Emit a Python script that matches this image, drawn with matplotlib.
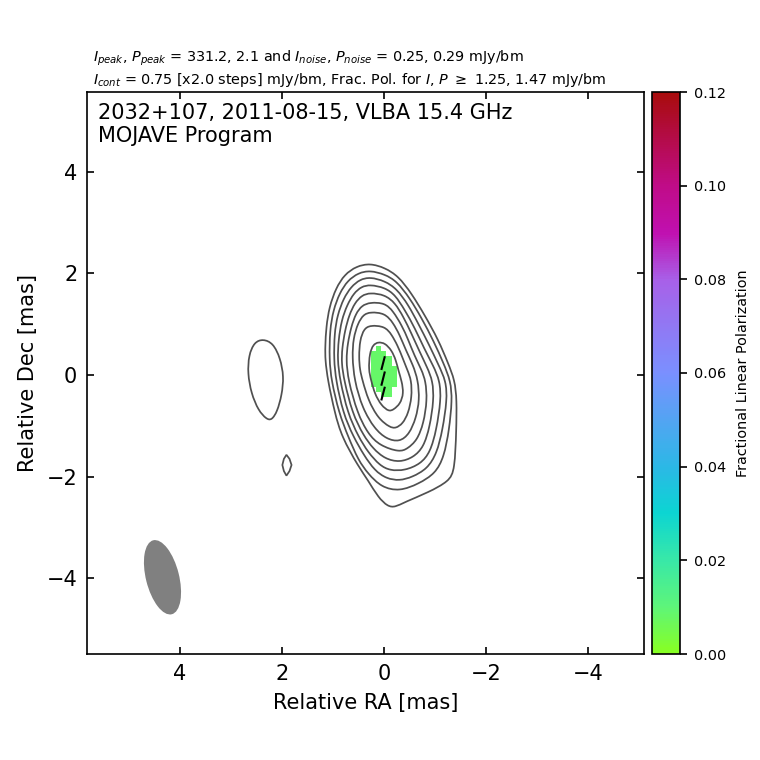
"""
plot.py — MOJAVE 15 GHz fractional polarization map of 2032+107.
"""

import numpy as np
import matplotlib
matplotlib.use("Agg")
import matplotlib.pyplot as plt
from matplotlib.colors import LinearSegmentedColormap
from matplotlib.patches import Ellipse, PathPatch, Polygon
from matplotlib.path import Path

# ---------------------------------------------------------------------------
# Data (RA, Dec in mas)
# ---------------------------------------------------------------------------

contour_1 = [(0.11, 0.65), (0.21, 0.60), (0.28, 0.43), (0.30, 0.10), (0.25, -0.10), (0.18, -0.37), (0.05, -0.60),
             (-0.10, -0.72), (-0.19, -0.68), (-0.32, -0.57), (-0.39, -0.36), (-0.35, -0.12), (-0.29, 0.07),
             (-0.235, 0.30), (-0.15, 0.49), (-0.02, 0.63)]
contour_2 = [(0.27, 0.98), (0.39, 0.91), (0.47, 0.69), (0.49, 0.36), (0.47, 0.10), (0.42, -0.10), (0.31, -0.49),
             (0.11, -0.86), (-0.12, -1.03), (-0.23, -1.05), (-0.37, -0.96), (-0.48, -0.75), (-0.55, -0.43), (-0.54, -0.10),
             (-0.46, 0.10), (-0.37, 0.33), (-0.27, 0.58), (-0.15, 0.80), (-0.02, 0.96)]
contour_3 = [(0.27, 1.24), (0.40, 1.19), (0.51, 1.02), (0.60, 0.72), (0.62, 0.36), (0.58, -0.10), (0.42, -0.66), (0.18, -1.06),
             (-0.05, -1.26), (-0.31, -1.32), (-0.50, -1.16), (-0.63, -0.85), (-0.70, -0.49), (-0.67, -0.10),
             (-0.57, 0.20), (-0.43, 0.49), (-0.31, 0.79), (-0.18, 1.03), (-0.02, 1.22)]
contour_4 = [(0.27, 1.43), (0.43, 1.37), (0.55, 1.21), (0.64, 0.95), (0.71, 0.62), (0.74, 0.30), (0.70, -0.10), (0.52, -0.75),
             (0.31, -1.16), (0.08, -1.39), (-0.31, -1.52), (-0.46, -1.45), (-0.65, -1.29), (-0.78, -0.95), (-0.85, -0.49),
             (-0.82, -0.12), (-0.74, 0.10), (-0.60, 0.38), (-0.48, 0.69), (-0.35, 0.98), (-0.18, 1.26), (-0.02, 1.42)]
contour_5 = [(0.27, 1.62), (0.43, 1.57), (0.57, 1.42), (0.68, 1.18), (0.76, 0.89), (0.82, 0.52), (0.83, 0.23), (0.78, -0.10),
             (0.62, -0.75), (0.40, -1.19), (0.21, -1.45), (-0.02, -1.65), (-0.31, -1.72), (-0.58, -1.62), (-0.78, -1.42),
             (-0.90, -1.02), (-0.98, -0.49), (-0.96, -0.12), (-0.85, 0.15), (-0.70, 0.46), (-0.54, 0.82), (-0.38, 1.15),
             (-0.22, 1.42), (-0.02, 1.58)]
contour_6 = [(0.27, 1.78), (0.44, 1.74), (0.59, 1.61), (0.72, 1.38), (0.83, 1.08), (0.89, 0.69), (0.91, 0.30), (0.86, -0.10),
             (0.71, -0.75), (0.50, -1.21), (0.31, -1.52), (0.08, -1.78), (-0.12, -1.88), (-0.41, -1.88), (-0.72, -1.75),
             (-0.91, -1.52), (-1.03, -1.08), (-1.12, -0.49), (-1.10, -0.12), (-0.97, 0.18), (-0.79, 0.52), (-0.61, 0.92),
             (-0.41, 1.28), (-0.22, 1.58), (-0.02, 1.72)]
contour_7 = [(0.27, 1.93), (0.47, 1.88), (0.64, 1.74), (0.79, 1.51), (0.91, 1.18), (0.97, 0.82), (0.98, 0.30), (0.94, -0.10),
             (0.80, -0.75), (0.60, -1.21), (0.39, -1.58), (0.18, -1.88), (-0.05, -2.04), (-0.31, -2.08), (-0.55, -2.01),
             (-0.85, -1.85), (-1.04, -1.54), (-1.15, -1.08), (-1.24, -0.49), (-1.22, -0.12), (-1.07, 0.20), (-0.89, 0.59),
             (-0.67, 1.02), (-0.48, 1.38), (-0.25, 1.70), (-0.02, 1.85)]
contour_8 = [(0.27, 2.06), (0.50, 2.01), (0.71, 1.86), (0.87, 1.61), (0.99, 1.28), (1.06, 0.89), (1.07, 0.30), (1.03, -0.10),
             (0.88, -0.75), (0.70, -1.21), (0.50, -1.68), (0.31, -1.94), (0.05, -2.21), (-0.31, -2.29), (-0.68, -2.14),
             (-1.01, -1.94), (-1.18, -1.61), (-1.28, -1.08), (-1.34, -0.49), (-1.31, -0.12), (-1.17, 0.23), (-0.98, 0.66),
             (-0.74, 1.12), (-0.51, 1.51), (-0.25, 1.85), (-0.02, 1.98)]
contour_9 = [(0.27, 2.20), (0.54, 2.14), (0.77, 1.98), (0.94, 1.71), (1.07, 1.34), (1.13, 0.95), (1.15, 0.56), (1.15, 0.30),
             (1.10, -0.10), (0.96, -0.75), (0.83, -1.21), (0.50, -1.80), (0.31, -2.07), (0.11, -2.41), (-0.08, -2.59),
             (-0.22, -2.60), (-0.41, -2.50), (-0.87, -2.31), (-1.28, -2.09), (-1.39, -1.87), (-1.42, -1.08), (-1.43, -0.49),
             (-1.39, -0.10), (-1.26, 0.23), (-1.07, 0.69), (-0.80, 1.18), (-0.54, 1.61), (-0.28, 1.95), (-0.02, 2.11)]
island_large = [(2.37, 0.71), (2.54, 0.65), (2.65, 0.39), (2.67, 0.03), (2.60, -0.36), (2.46, -0.70), (2.30, -0.87),
                (2.20, -0.89), (2.09, -0.72), (2.00, -0.39), (1.96, -0.03), (2.03, 0.33), (2.17, 0.63)]
island_small = [(1.91, -1.57), (1.96, -1.65), (1.99, -1.77), (1.96, -1.89), (1.91, -1.98), (1.85, -1.89), (1.81, -1.77), (1.85, -1.65)]

contours = [contour_1, contour_2, contour_3, contour_4, contour_5, contour_6, contour_7, contour_8, contour_9,
            island_large]

# fractional polarization cells
frac_ra = [0.2, 0.1, 0.0, -0.1, -0.2]
frac_dec = [0.52, 0.42, 0.32, 0.22, 0.12, 0.02, -0.08, -0.18, -0.28, -0.38]
n = np.nan
frac_pol = [
    [n, 0.008, n, n, n],
    [0.008, 0.008, 0.008, n, n],
    [0.008, 0.008, 0.008, 0.008, n],
    [0.008, 0.008, 0.008, 0.008, n],
    [0.008, 0.008, 0.008, 0.008, 0.008],
    [0.008, 0.008, 0.008, 0.008, 0.008],
    [0.008, 0.008, 0.008, 0.008, 0.008],
    [0.008, 0.008, 0.008, 0.008, 0.008],
    [n, 0.008, 0.008, 0.008, n],
    [n, n, 0.008, 0.008, n],
]

# polarization position angle sticks: (RA start, RA end), (Dec start, Dec end)
evpa_ra = [(-0.02, 0.05), (-0.02, 0.05), (-0.02, 0.05)]
evpa_dec = [(0.37, 0.10), (0.07, -0.21), (-0.23, -0.50)]

# restoring beam
beam_ra, beam_dec = 4.34, -3.98
beam_major, beam_minor, beam_pa = 1.50, 0.65, 14

cmap_values = [0.0, 0.01, 0.02, 0.03, 0.04, 0.06, 0.08, 0.09, 0.10, 0.12]
cmap_colors = ["#88ff22", "#5df57a", "#38e8a8", "#0cd5d2", "#2cb8e6", "#7a90ff",
               "#a860e8", "#c010b0", "#c00c88", "#a80c0c"]
cbar_ticks = [0.00, 0.02, 0.04, 0.06, 0.08, 0.10, 0.12]
axis_ticks = [-4, -2, 0, 2, 4]

title_1 = r"$I_{peak}$, $P_{peak}$ = 331.2, 2.1 and $I_{noise}$, $P_{noise}$ = 0.25, 0.29 mJy/bm"
title_2 = r"$I_{cont}$ = 0.75 [x2.0 steps] mJy/bm, Frac. Pol. for $I$, $P$ $\geq$ 1.25, 1.47 mJy/bm"
label_1 = "2032+107, 2011-08-15, VLBA 15.4 GHz"
label_2 = "MOJAVE Program"


def closed_path(points):
    """Closed cubic B-spline outline on the traced points, as Bezier segments."""
    pts = np.asarray(points, dtype=float)
    prev = np.roll(pts, 1, axis=0)
    nxt = np.roll(pts, -1, axis=0)
    nxt2 = np.roll(pts, -2, axis=0)
    verts = [(prev[0] + 4 * pts[0] + nxt[0]) / 6]
    codes = [Path.MOVETO]
    for p1, p2, p3 in zip(pts, nxt, nxt2):
        verts += [(2 * p1 + p2) / 3, (p1 + 2 * p2) / 3, (p1 + 4 * p2 + p3) / 6]
        codes += [Path.CURVE4] * 3
    return Path(verts, codes)


W = H = 760.0
fig = plt.figure(figsize=(7.6, 7.6), dpi=100)
ax = fig.add_axes([87 / W, 1 - 654 / H, 557 / W, 562 / H])
cax = fig.add_axes([652 / W, 1 - 654 / H, 28 / W, 562 / H])

cmap = LinearSegmentedColormap.from_list(
    "fracpol", [(v / cmap_values[-1], c) for v, c in zip(cmap_values, cmap_colors)])

mesh = ax.pcolormesh(frac_ra, frac_dec, np.ma.masked_invalid(frac_pol), cmap=cmap,
                     vmin=cmap_values[0], vmax=cmap_values[-1], shading="nearest",
                     rasterized=True, zorder=1)

for points in contours:
    ax.add_patch(PathPatch(closed_path(points), fill=False, edgecolor="#505050", linewidth=1.25, zorder=2))
ax.add_patch(Polygon(island_small, closed=True, fill=False, edgecolor="#505050", linewidth=1.25, zorder=2))

for ra, dec in zip(evpa_ra, evpa_dec):
    ax.plot(ra, dec, color="black", linewidth=1.5, solid_capstyle="butt", zorder=3)

ax.add_patch(Ellipse((beam_ra, beam_dec), beam_major, beam_minor, angle=90 - beam_pa,
                     facecolor="#808080", edgecolor="none", zorder=2))

ax.set_xlim(5.82, -5.10)
ax.set_ylim(-5.49, 5.57)
ax.set_xticks(axis_ticks)
ax.set_yticks(axis_ticks)
ax.tick_params(direction="in", length=5, width=1.2, top=True, right=True, labelsize=15, pad=7)
ax.set_xlabel("Relative RA [mas]", fontsize=15, labelpad=7)
ax.set_ylabel("Relative Dec [mas]", fontsize=15, labelpad=6)
for spine in ax.spines.values():
    spine.set_linewidth(1.2)

ax.text(0.02, 0.962, label_1, transform=ax.transAxes, fontsize=15, ha="left", va="center")
ax.text(0.02, 0.921, label_2, transform=ax.transAxes, fontsize=15, ha="left", va="center")
fig.text(93 / W, 1 - 58 / H, title_1, fontsize=10.4, ha="left", va="center")
fig.text(93 / W, 1 - 80 / H, title_2, fontsize=10.4, ha="left", va="center")

cbar = fig.colorbar(mesh, cax=cax, ticks=cbar_ticks)
cbar.ax.set_yticklabels([f"{t:.2f}" for t in cbar_ticks])
cbar.ax.tick_params(labelsize=10.4, length=5, width=1.2, direction="out", pad=5)
cbar.outline.set_linewidth(1.2)
cbar.set_label("Fractional Linear Polarization", fontsize=10.4, labelpad=7)

fig.savefig("out.png", dpi=100)
